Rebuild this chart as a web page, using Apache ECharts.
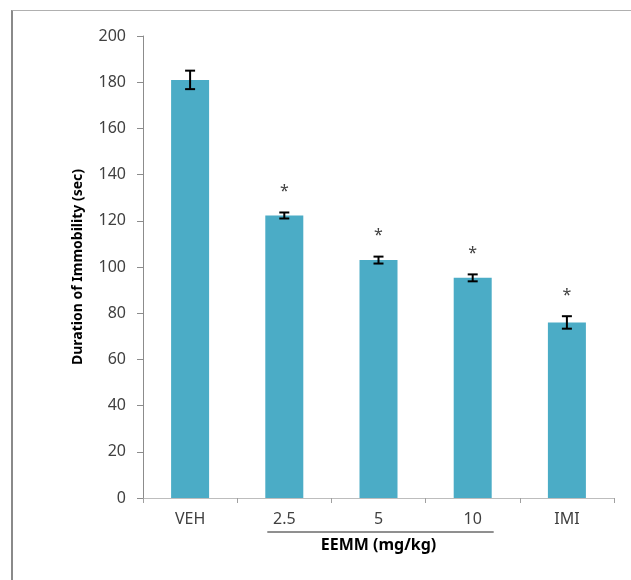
<!DOCTYPE html>
<html lang="en">
<head>
    <meta charset="UTF-8"/>
    <title>Duration of Immobility</title>
    <script src="https://cdn.jsdelivr.net/npm/echarts@6/dist/echarts.min.js"></script>
    <style>
        html, body { margin: 0; padding: 0; background: #fff; }
        #frame { position: absolute; left: 11px; top: 10px; width: 640px; height: 600px;
                 border-left: 2px solid #8a8a8a; border-top: 1px solid #b0b0b0; }
        #main { position: absolute; left: 0; top: 0; width: 631px; height: 580px; }
    </style>
</head>
<body>
<div id="frame"></div>
<div id="main"></div>

<script type="text/javascript">
    // data
    var groups = ['VEH', '2.5', '5', '10', 'IMI'];
    var means = [181, 122.3, 103, 95.3, 76];
    var errors = [4, 1.3, 1.5, 1.5, 2.7];
    var marks = ['', '*', '*', '*', '*'];
    var yTicks = [0, 200, 20]; // min, max, step
    var doseGroup = [1, 3]; // categories under the EEMM label
    var doseLabel = 'EEMM (mg/kg)';

    var font = '"Noto Sans", "Open Sans", sans-serif';
    var myChart = echarts.init(document.getElementById('main'));

    var errData = groups.map(function (g, i) {
        return [i, means[i] - errors[i], means[i] + errors[i], marks[i]];
    });

    var option = {
        animation: false,
        grid: { left: 143, top: 36, right: 17, bottom: 82 },
        xAxis: {
            type: 'category',
            data: groups,
            axisLine: { lineStyle: { color: '#bdbdbd', width: 1 } },
            axisTick: { show: true, length: 5, lineStyle: { color: '#a0a0a0' } },
            axisLabel: { color: '#404040', fontSize: 16, fontFamily: font, margin: 13 }
        },
        yAxis: {
            type: 'value',
            min: yTicks[0], max: yTicks[1], interval: yTicks[2],
            name: 'Duration of Immobility (sec)',
            nameLocation: 'middle',
            nameGap: 58,
            nameTextStyle: { color: '#000', fontSize: 14, fontWeight: 'bold', fontFamily: font },
            splitLine: { show: false },
            axisLine: { show: true, lineStyle: { color: '#8c8c8c' } },
            axisTick: { show: true, length: 6, lineStyle: { color: '#8c8c8c' } },
            axisLabel: { color: '#404040', fontSize: 16, fontFamily: font, margin: 17 }
        },
        series: [
            {
                type: 'bar',
                data: means,
                barWidth: 38,
                itemStyle: { color: '#4bacc6' },
                z: 2
            },
            {
                type: 'custom',
                data: errData,
                z: 5,
                renderItem: function (params, api) {
                    var x = api.value(0);
                    var lo = api.coord([x, api.value(1)]);
                    var hi = api.coord([x, api.value(2)]);
                    var cap = 5;
                    var st = { stroke: '#000', lineWidth: 2 };
                    var children = [
                        { type: 'line', shape: { x1: lo[0], y1: lo[1], x2: hi[0], y2: hi[1] }, style: st },
                        { type: 'line', shape: { x1: hi[0] - cap, y1: hi[1], x2: hi[0] + cap, y2: hi[1] }, style: st },
                        { type: 'line', shape: { x1: lo[0] - cap, y1: lo[1], x2: lo[0] + cap, y2: lo[1] }, style: st }
                    ];
                    var m = errData[params.dataIndex][3];
                    if (m) {
                        children.push({
                            type: 'text',
                            style: {
                                text: m, x: hi[0], y: hi[1] - 21,
                                fill: '#404040', font: '16px ' + font,
                                align: 'center', verticalAlign: 'middle'
                            }
                        });
                    }
                    return { type: 'group', children: children };
                }
            },
            {
                // underline + label for the EEMM dose groups
                type: 'custom',
                data: [[doseGroup[0], doseGroup[1]]],
                clip: false,
                silent: true,
                renderItem: function (params, api) {
                    var a = api.coord([api.value(0), 0]);
                    var b = api.coord([api.value(1), 0]);
                    var y = a[1] + 34;
                    return {
                        type: 'group',
                        children: [
                            { type: 'line', shape: { x1: a[0] - 17, y1: y, x2: b[0] + 21, y2: y },
                              style: { stroke: '#202020', lineWidth: 1 } },
                            { type: 'text', style: {
                                text: doseLabel, x: (a[0] + b[0]) / 2, y: y + 13,
                                fill: '#000', font: 'bold 16px ' + font,
                                align: 'center', verticalAlign: 'middle' } }
                        ]
                    };
                }
            }
        ]
    };

    myChart.setOption(option);
</script>
</body>
</html>
